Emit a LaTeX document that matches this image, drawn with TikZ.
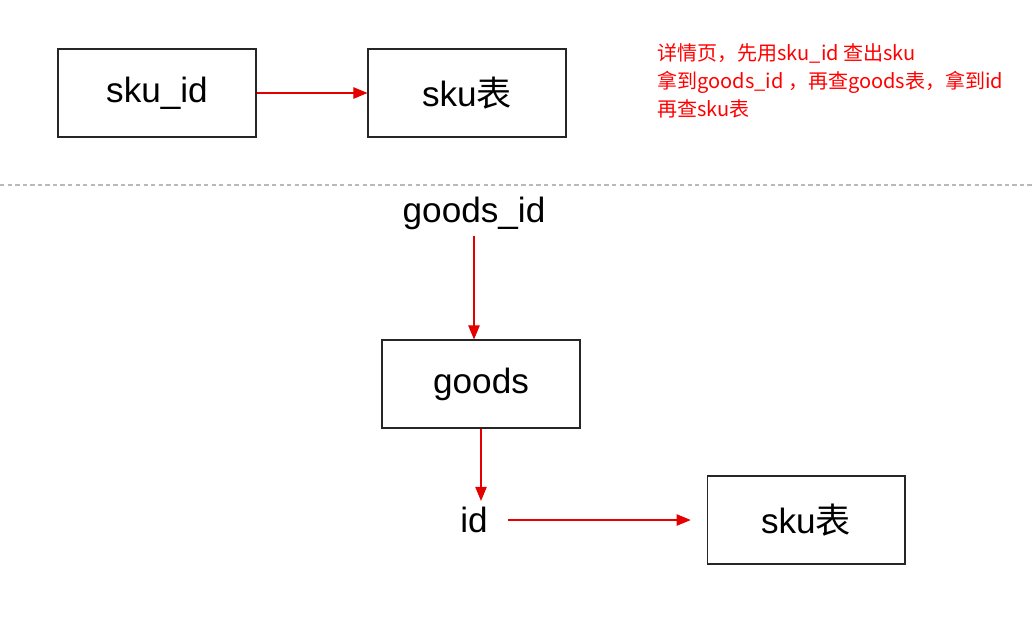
\documentclass[tikz,border=0pt]{standalone}
\usepackage{fontspec}
\setmainfont{Liberation Sans}
\newfontfamily\cjk{Noto Sans CJK SC}
\usetikzlibrary{arrows.meta}
\begin{document}
\begin{tikzpicture}[x=0.02cm, y=-0.02cm,
block/.style={draw=black!85, line width=0.6pt, rectangle, minimum width=3.96cm, minimum height=1.76cm, align=center, font=\fontsize{20}{24}\selectfont},
word/.style={font=\fontsize{20}{24}\selectfont},
note/.style={text=red, align=left, inner sep=0pt, font=\cjk\fontsize{11.4}{16}\selectfont},
arrow/.style={-{Triangle[length=8pt,width=6.5pt]}, red!90!black, line width=0.6pt}
]
\useasboundingbox (0,0) rectangle (1033,620);
% top part
\node[block] (skuid) at (157,93) {sku\_id};
\node[block] (skutab) at (467,93) {sku{\cjk 表}};
\draw[arrow] (skuid) -- (skutab);
\node[note, anchor=north west] (hint) at (657,43) {详情页，先用sku\_id 查出sku\\拿到goods\_id ，再查goods表，拿到id\\再查sku表};
% separator
\draw[gray!55, line width=1pt, dash pattern=on 2.5pt off 1.8pt] (0,185) -- (1033,185);
% lower part
\node[word] (gid) at (474,213) {goods\_id};
\node[block] (goods) at (481,384) {goods};
\node[word] (id) at (474,520) {id};
\node[block] (skutab2) at (806,520) {sku{\cjk 表}};
\draw[arrow] (gid.south) -- (gid.south |- goods.north);
\draw[arrow] (goods.south) -- (goods.south |- id.north);
\draw[arrow, shorten <=8pt, shorten >=9pt] (id.east) -- (id.east -| skutab2.west);
\end{tikzpicture}
\end{document}
